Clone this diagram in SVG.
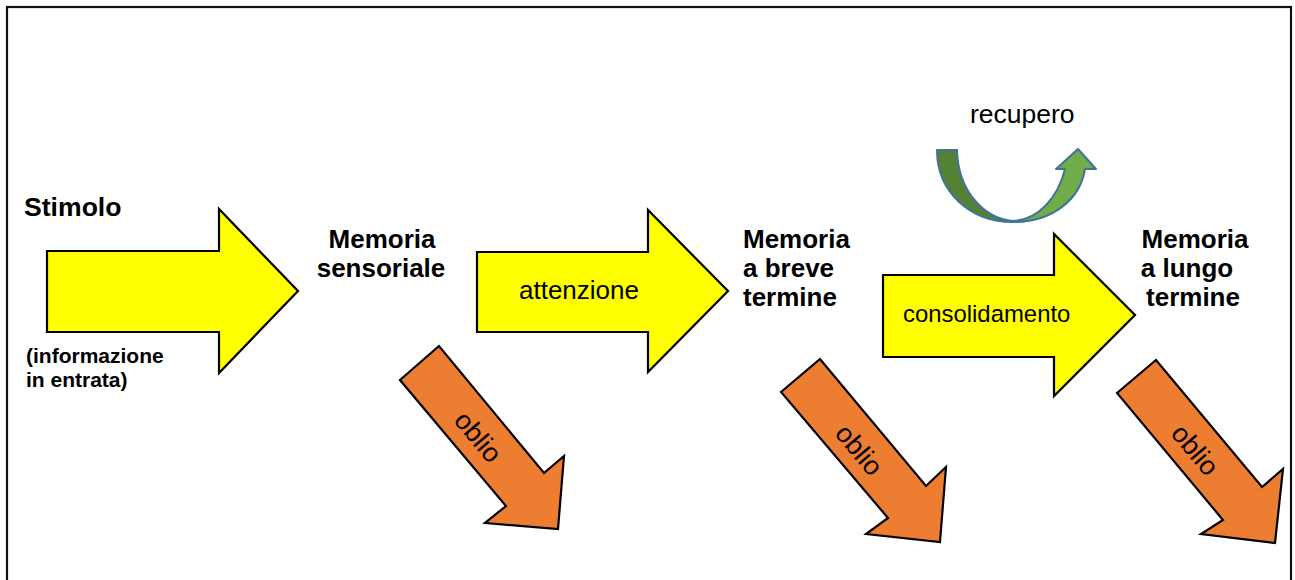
<svg xmlns="http://www.w3.org/2000/svg" width="1295" height="580" viewBox="0 0 1295 580">
  <style>
    .stage { fill: #FFFF00; stroke: #000; stroke-width: 2.2; stroke-linejoin: miter; }
    .forget { fill: #ED7D31; stroke: #000; stroke-width: 2.2; stroke-linejoin: miter; }
    .title { font-family: "Liberation Sans", Arial, sans-serif; font-weight: bold; font-size: 26px; fill: #000; }
    .note { font-family: "Liberation Sans", Arial, sans-serif; font-weight: bold; font-size: 21px; fill: #000; }
    .label { font-family: "Liberation Sans", Arial, sans-serif; font-size: 26px; fill: #000; }
    .oblio { font-size: 27px; }
  </style>
  <defs>
    <linearGradient id="recallFill" gradientUnits="userSpaceOnUse" x1="937" y1="0" x2="1096" y2="0">
      <stop offset="0.47" stop-color="#548235"/>
      <stop offset="0.47" stop-color="#70AD47"/>
    </linearGradient>
  </defs>

  <rect width="1295" height="580" fill="#fff"/>
  <!-- frame -->
  <rect x="7" y="7" width="1284" height="600" fill="none" stroke="#111" stroke-width="2.2"/>

  <!-- input stimulus -->
  <g id="stimolo">
    <text class="title" x="24" y="216" style="font-size:26.6px">Stimolo</text>
    <text class="note" x="26" y="363">(informazione</text>
    <text class="note" x="26" y="387">in entrata)</text>
  </g>

  <g id="memoria-sensoriale">
    <text class="title" text-anchor="middle" x="382" y="248">Memoria</text>
    <text class="title" text-anchor="middle" x="381" y="277">sensoriale</text>
  </g>

  <g id="memoria-breve">
    <text class="title" x="743" y="248">Memoria</text>
    <text class="title" x="743" y="277">a breve</text>
    <text class="title" x="743" y="306">termine</text>
  </g>

  <g id="memoria-lungo">
    <text class="title" text-anchor="middle" x="1195" y="248">Memoria</text>
    <text class="title" text-anchor="middle" x="1187" y="277">a lungo</text>
    <text class="title" text-anchor="middle" x="1193" y="306">termine</text>
  </g>

  <g id="connectors">
    <!-- stage arrows -->
    <g id="arrow-input">
      <polygon class="stage" points="47,251 219,251 219,209 298,291 219,373 219,332 47,332"/>
    </g>
    <g id="arrow-attenzione">
      <polygon class="stage" points="477,252 648,252 648,210 728,291 648,372 648,332 477,332"/>
      <text class="label" x="519" y="299">attenzione</text>
    </g>
    <g id="arrow-consolidamento">
      <polygon class="stage" points="883,275 1054,275 1054,234 1135,315 1054,396 1054,357 883,357"/>
      <text class="label" x="903" y="322" style="font-size:23.9px">consolidamento</text>
    </g>

    <!-- forgetting arrows -->
    <g id="oblio-1">
      <polygon class="forget" points="400,380 439,346 544,473 564,456 558,529 485,523 506,506"/>
      <text class="label oblio" text-anchor="middle" transform="translate(478,437) rotate(50)" y="9">oblio</text>
    </g>
    <g id="oblio-2">
      <polygon class="forget" points="781,392 820,359 926,486 946,467 940,542 866,534 888,518"/>
      <text class="label oblio" text-anchor="middle" transform="translate(859,450) rotate(50)" y="9">oblio</text>
    </g>
    <g id="oblio-3">
      <polygon class="forget" points="1117,393 1156,360 1262,487 1283,469 1275,543 1201,534 1223,520"/>
      <text class="label oblio" text-anchor="middle" transform="translate(1195,450) rotate(50)" y="9">oblio</text>
    </g>

    <!-- retrieval -->
    <g id="recupero">
      <path d="M937,150 C937,192 970,222 1013,222 C1052,222 1080,200 1085,169 L1096,169 L1078,149 L1056,169 L1065,169 C1058,198 1038,220 1013,221 C985,219 958,192 957,150 Z" fill="url(#recallFill)" stroke="#41719C" stroke-width="2" stroke-linejoin="round"/>
      <text class="label" x="970" y="123" style="font-size:26.5px">recupero</text>
    </g>
  </g>
</svg>
